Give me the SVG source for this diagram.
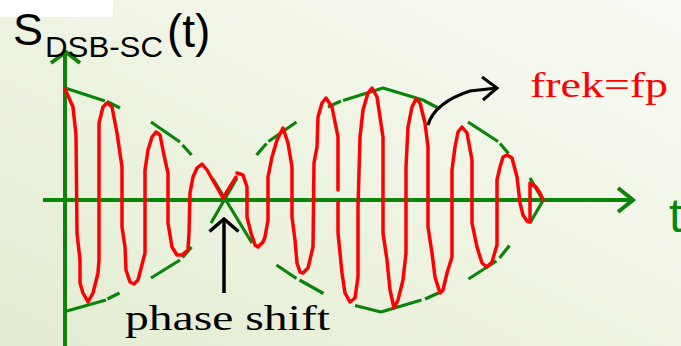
<svg xmlns="http://www.w3.org/2000/svg" width="681" height="346" viewBox="0 0 681 346">
<defs>
<linearGradient id="bg" x1="0" y1="1" x2="1" y2="0">
<stop offset="0" stop-color="#e3ecd2"/>
<stop offset="0.55" stop-color="#eff4e4"/>
<stop offset="1" stop-color="#f9faf4"/>
</linearGradient>
<style>
.axis{fill:none;stroke:#0a850a;stroke-width:4;stroke-linecap:butt;stroke-linejoin:miter}
.env{fill:none;stroke:#0a850a;stroke-width:3.2;stroke-linecap:butt;stroke-linejoin:round}
.sig{fill:none;stroke:#ff0000;stroke-width:3.5;stroke-linecap:round;stroke-linejoin:round}
.blk{fill:none;stroke:#000000;stroke-width:3;stroke-linecap:butt;stroke-linejoin:miter}
.sans{font-family:"Liberation Sans",Arial,sans-serif}
.serif{font-family:"Liberation Serif","Times New Roman",serif}
</style>
</defs>
<rect x="0" y="0" width="681" height="346" fill="url(#bg)"/>
<rect x="0" y="0" width="113" height="17" fill="#ffffff"/>
<g id="axes">
<path class="axis" d="M65,346 L65,53"/>
<path class="axis" d="M51,63 L66,52 L80,63"/>
<path class="axis" d="M43,200 L632,200"/>
<path class="axis" d="M618,188 L633,200 L618,212"/>
</g>
<g id="envelope">
<path class="env" d="M65,88 L105,101 M107,101.5 L120,108"/>
<path class="env" d="M151,122 L180,142 M182.5,145 L191.5,155"/>
<path class="env" d="M65,311.5 L106,300 M107.5,299 L119.5,293"/>
<path class="env" d="M151,278 L180,260 M182.5,257.5 L191.5,247"/>
<path class="env" d="M213,179 L252,243 M211,223 L237,178"/>
<path class="env" d="M256.5,155 L266.5,143.5 M268.5,141.5 L296.5,122"/>
<path class="env" d="M328,107 L341,101 M343,100.5 L383,88 L423,100 L438,108"/>
<path class="env" d="M468,122 L498,141.5 M500,143.5 L508.5,153.5"/>
<path class="env" d="M530,178 L543,200.5 L530,223"/>
<path class="env" d="M276.5,265 L296.5,278.5 M299.5,280 L323.5,293.5"/>
<path class="env" d="M355,305.5 L381,312 L421.5,300 M425,299 L438.5,293"/>
<path class="env" d="M468.5,279 L496.5,261 M499.5,258 L509.5,245.5"/>
</g>
<g id="signal">
<polyline class="sig" points="65,89 73,107 76,135 77,233 80,260 80,283 83,293 88,302 93,293 98,273 99,260 99,123 103,107 107,103 112,107 117,133 122,167 122,227 125,247 126,270 130,282 134,284 138,280 145,253 145,170 148,150 152,137 156,132 160,135 165,160 168,173 168,223 172,247 177,255 182,255 188,250 189,233 190,193 193,177 197,168 202,164 207,170 223,198 236,177"/>
<polyline class="sig" points="237,173 243,175 247,187 247,217 251,233 255,245 258,247 263,242 265,237 268,220 268,177 272,157 277,140 283,128 288,143 292,167 292,217 295,240 297,263 300,272 303,273 308,268 313,247 314,163 317,147 318,117 322,103 326,98 332,107 338,137 338,190"/>
<polyline class="sig" points="338,202 338,233 342,273 345,293 350,302 355,298 358,277 358,207 360,137 363,110 368,93 372,88 377,97 380,117 383,137 383,233 387,260 390,290 394,308 398,300 403,280 406,253 406,167 408,127 412,107 416,99 420,103 425,123 428,147 428,227 432,253 435,277 440,293 443,290 447,273 452,257 452,170 455,147 458,132 462,127 467,133 472,160 472,223 477,247 482,263 487,267 492,262 497,245 497,180 500,167 503,157 507,155 512,158 517,177 520,203 523,215 527,221 530,222 530,183 536,187 540,193 543,200"/>
</g>
<g id="freq-arrow">
<path class="blk" d="M428,125 C432,110 448,98 470,91 L497,88"/>
<path class="blk" d="M482,77 L497,88 L483,100"/>
</g>
<g id="phase-arrow">
<path class="blk" style="stroke-width:3.5" d="M224,293 L224,219"/>
<path class="blk" style="stroke-width:3.5" d="M209.5,231.5 L224,219 L238.5,231.5"/>
</g>
<g id="title">
<text class="sans" x="13" y="45" font-size="45" fill="#000000">S</text>
<text class="sans" x="45" y="57" font-size="30" fill="#000000" textLength="118" lengthAdjust="spacingAndGlyphs">DSB-SC</text>
<text class="sans" x="167" y="47" font-size="46" fill="#000000">(t)</text>
</g>
<g id="t-label">
<text class="sans" x="669" y="232" font-size="48" fill="#0a850a">t</text>
</g>
<g id="freq-label">
<text class="serif" x="530" y="97" font-size="36" fill="#ff0000" textLength="138" lengthAdjust="spacingAndGlyphs">frek=fp</text>
</g>
<g id="phase-label">
<text class="serif" x="125" y="330" font-size="36" fill="#000000" textLength="205" lengthAdjust="spacingAndGlyphs">phase shift</text>
</g>
</svg>
